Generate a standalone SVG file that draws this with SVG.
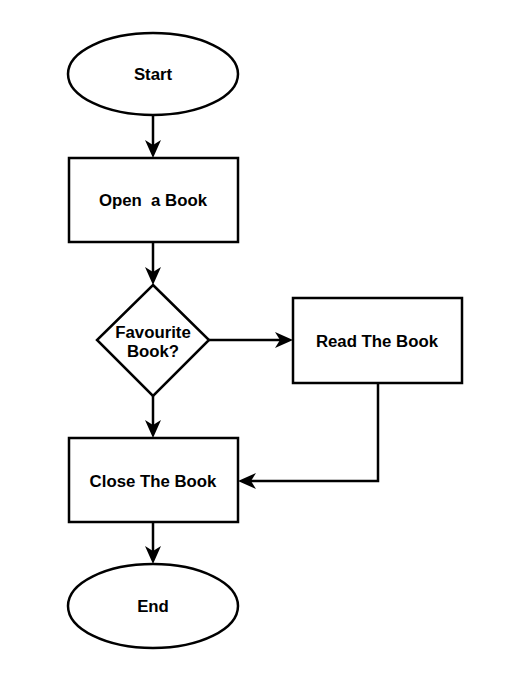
<svg xmlns="http://www.w3.org/2000/svg" width="517" height="692" viewBox="0 0 517 692">
<style>
.s{fill:#fff;stroke:#000;stroke-width:2.5}
.t{font-family:"Liberation Sans",Arial,Helvetica,sans-serif;font-weight:bold;font-size:16.8px;fill:#000;text-anchor:middle}
.c{fill:none;stroke:#000;stroke-width:2.5}
</style>
<defs>
<marker id="a" markerUnits="userSpaceOnUse" viewBox="0 0 18 16" markerWidth="18" markerHeight="16" refX="12" refY="8" orient="auto">
<path d="M0,0 L18,8 L0,16 L5,8 Z" fill="#000"/>
</marker>
</defs>
<rect width="517" height="692" fill="#fff"/>
<g id="connectors">
<path class="c" d="M153,115 V152" marker-end="url(#a)"/>
<path class="c" d="M153,243 V279" marker-end="url(#a)"/>
<path class="c" d="M209,340 H287" marker-end="url(#a)"/>
<path class="c" d="M153,396 V432" marker-end="url(#a)"/>
<path class="c" d="M378,383 V481 H244" marker-end="url(#a)"/>
<path class="c" d="M153,522 V558" marker-end="url(#a)"/>
</g>
<g id="start">
<ellipse class="s" cx="153" cy="74" rx="85" ry="41"/>
<text class="t" x="153" y="80">Start</text>
</g>
<g id="open">
<rect class="s" x="69" y="158" width="169" height="84"/>
<text class="t" x="153" y="206" xml:space="preserve">Open  a Book</text>
</g>
<g id="decision">
<path class="s" d="M153,285 L209,340 L153,396 L97,340 Z"/>
<text class="t" x="153" y="338">Favourite</text>
<text class="t" x="153" y="357">Book?</text>
</g>
<g id="read">
<rect class="s" x="293" y="298" width="169" height="85"/>
<text class="t" x="377" y="347">Read The Book</text>
</g>
<g id="close">
<rect class="s" x="69" y="438" width="169" height="84"/>
<text class="t" x="153" y="487">Close The Book</text>
</g>
<g id="end">
<ellipse class="s" cx="153" cy="606" rx="85" ry="42"/>
<text class="t" x="153" y="612">End</text>
</g>
</svg>
